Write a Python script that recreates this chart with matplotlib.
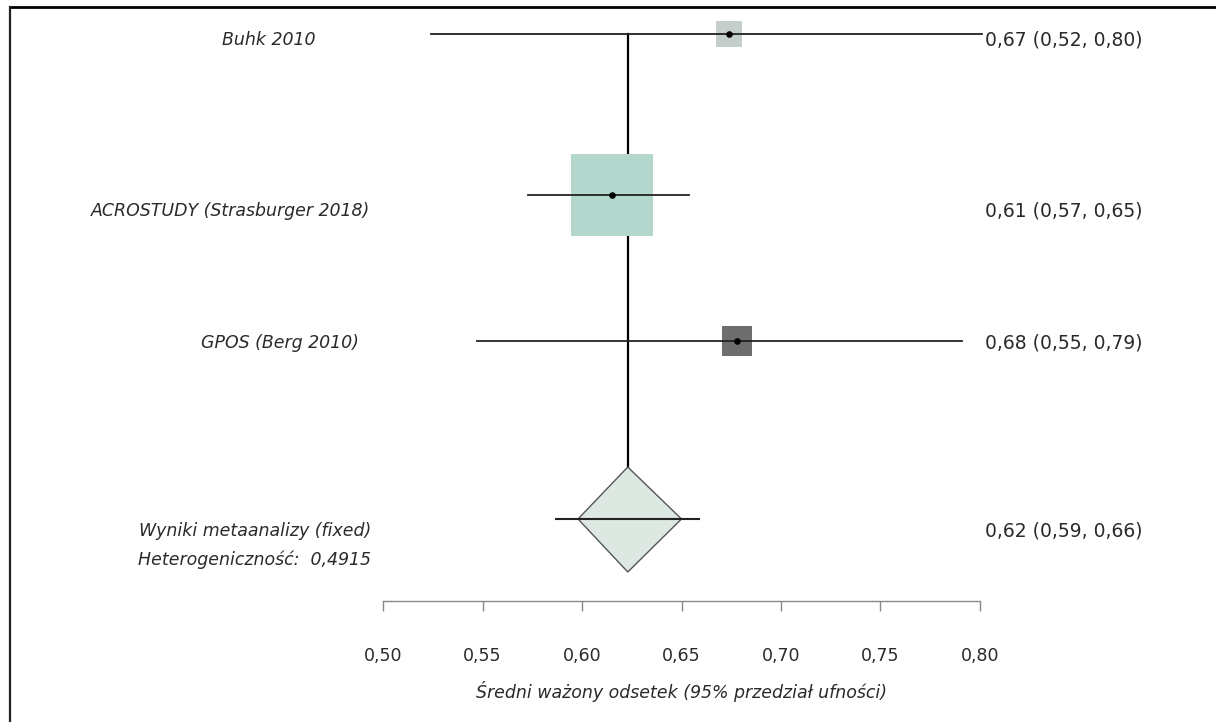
import matplotlib
matplotlib.use("Agg")
import matplotlib.pyplot as plt
from matplotlib.lines import Line2D
from matplotlib.patches import Polygon
import numpy as np

# study data
studies = ["Buhk 2010", "ACROSTUDY (Strasburger 2018)", "GPOS (Berg 2010)"]
est = [0.674, 0.615, 0.678]
lo = [0.524, 0.573, 0.547]
hi = [0.801, 0.654, 0.791]
weights = [0.08, 0.82, 0.11]
est_labels = ["0,67 (0,52, 0,80)", "0,61 (0,57, 0,65)", "0,68 (0,55, 0,79)"]

# pooled (fixed effect)
pooled_label = "Wyniki metaanalizy (fixed)"
pooled_est = 0.623
pooled_diamond = (0.598, 0.650)
pooled_ci = (0.587, 0.659)
pooled_text = "0,62 (0,59, 0,66)"
heterogeneity = "Heterogeniczność:  0,4915"

xticks = [0.50, 0.55, 0.60, 0.65, 0.70, 0.75, 0.80]
xlabel = "Średni ważony odsetek (95% przedział ufności)"

W, H = 1216, 722
plt.rcParams['font.family'] = ['DejaVu Sans']
fig = plt.figure(figsize=(W / 100, H / 100), dpi=100)
fig.patch.set_facecolor("white")

# axes: x=0.5 at px 383, x=0.8 at px 980; y in pixel rows from 7 (top) to 601 (axis line)
ax = fig.add_axes([383 / W, (H - 601) / H, (980 - 383) / W, (601 - 7) / H])
ax.set_xlim(0.5, 0.8)
ax.set_ylim(601, 7)
ax.set_facecolor("none")

row_y = [34, 195, 341]
label_y = [40, 211, 343]
label_cx = [269, 231, 280]
pooled_y = 519
txt_col = "#2a2a2a"
fs = 12.5
sq_colors = ["#c5cfca", "#b3d6cd", "#6e6e6e"]

# vertical line at pooled estimate
ax.plot([pooled_est, pooled_est], [row_y[0], pooled_y - 52], color="black", lw=1.6,
        clip_on=False, zorder=2)

for i in range(len(studies)):
    side_px = 89.5 * np.sqrt(weights[i])
    ax.scatter([est[i]], [row_y[i]], marker="s", s=(side_px * 0.72) ** 2,
               color=sq_colors[i], linewidths=0, zorder=3, clip_on=False)
    ax.plot([lo[i], hi[i]], [row_y[i], row_y[i]], color="#222222", lw=1.3,
            clip_on=False, zorder=4)
    ax.scatter([est[i]], [row_y[i]], s=14, color="black", zorder=5, clip_on=False)
    ax.text(label_cx[i] / W, 1 - label_y[i] / H, studies[i], transform=fig.transFigure,
            ha="center", va="center", style="italic", fontsize=fs, color=txt_col)
    ax.text(985 / W, 1 - label_y[i] / H, est_labels[i], transform=fig.transFigure,
            ha="left", va="center", fontsize=13.5, color=txt_col)

# diamond
d = Polygon([[pooled_diamond[0], pooled_y], [pooled_est, pooled_y - 52],
             [pooled_diamond[1], pooled_y], [pooled_est, pooled_y + 53]],
            closed=True, facecolor="#dde8e2", edgecolor="#555555", lw=1.0,
            clip_on=False, zorder=3)
ax.add_patch(d)
ax.plot(pooled_ci, [pooled_y, pooled_y], color="#222222", lw=1.5, clip_on=False, zorder=4)

ax.text(255 / W, 1 - 531 / H, pooled_label, transform=fig.transFigure, ha="center",
        va="center", style="italic", fontsize=fs, color=txt_col)
ax.text(254 / W, 1 - 560 / H, heterogeneity, transform=fig.transFigure, ha="center",
        va="center", style="italic", fontsize=fs, color=txt_col)
ax.text(985 / W, 1 - 531 / H, pooled_text, transform=fig.transFigure, ha="left",
        va="center", fontsize=13.5, color=txt_col)

# x axis
for s in ["top", "left", "right"]:
    ax.spines[s].set_visible(False)
ax.spines["bottom"].set_color("#888888")
ax.spines["bottom"].set_linewidth(1.0)
ax.set_yticks([])
ax.set_xticks(xticks)
ax.set_xticklabels([f"{v:.2f}".replace(".", ",") for v in xticks], fontsize=fs, color=txt_col)
ax.tick_params(axis="x", direction="out", length=7, width=1.0, color="#888888", pad=26)
ax.set_xlabel(xlabel, style="italic", fontsize=fs, color=txt_col, labelpad=12)

# outer frame lines (top and left)
fig.add_artist(Line2D([10 / W, 1], [1 - 7 / H, 1 - 7 / H], color="black", lw=2.0))
fig.add_artist(Line2D([10 / W, 10 / W], [0, 1 - 7 / H], color="#222222", lw=1.6))

fig.savefig("out.png", dpi=100)
